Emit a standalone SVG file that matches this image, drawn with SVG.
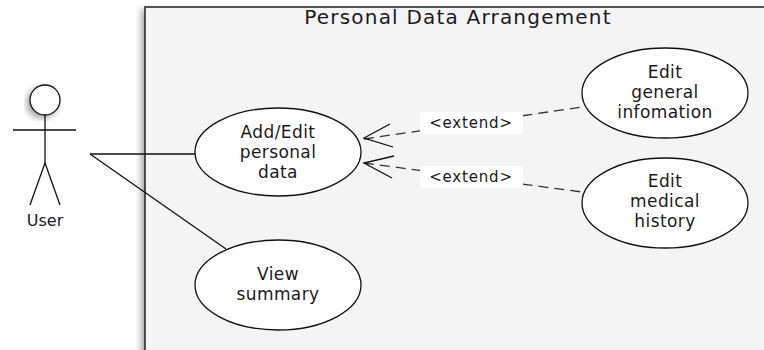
<svg xmlns="http://www.w3.org/2000/svg" width="764" height="350" viewBox="0 0 764 350">
<style>
text{font-family:"DejaVu Sans","Liberation Sans",sans-serif;fill:#1a1a1a;text-anchor:middle}
.uc{fill:#fff;stroke:#111;stroke-width:1.3}
.uct{font-size:17px;letter-spacing:0.4px}
.ln{stroke:#111;stroke-width:1.3;fill:none}
.dash{stroke:#333;stroke-width:1.3;fill:none;stroke-dasharray:10 6}
.lbl{fill:#fff}
.lt{font-size:15px;letter-spacing:0.8px}
</style>
<defs>
<filter id="sh" x="-20%" y="-20%" width="140%" height="140%">
<feDropShadow dx="-3" dy="3" stdDeviation="3" flood-color="#000" flood-opacity="0.35"/>
</filter>
</defs>
<rect width="764" height="350" fill="#fff"/>
<g id="frame">
<rect x="145" y="7" width="640" height="360" fill="#f4f4f4" stroke="#222" stroke-width="1.5" filter="url(#sh)"/>
<text x="458" y="24" style="font-size:20px;letter-spacing:1.2px">Personal Data Arrangement</text>
</g>
<g id="actor-user">
<circle cx="45" cy="100" r="15" fill="#fff" stroke="#111" stroke-width="1.3" filter="url(#sh)"/>
<line class="ln" x1="45" y1="115" x2="45" y2="163"/>
<line class="ln" x1="13" y1="130" x2="76" y2="130"/>
<line class="ln" x1="45" y1="163" x2="30" y2="205"/>
<line class="ln" x1="45" y1="163" x2="60" y2="205"/>
<text x="45" y="226" style="font-size:16px">User</text>
</g>
<g id="connectors">
<line class="ln" x1="90" y1="154" x2="196" y2="154"/>
<line class="ln" x1="90" y1="154" x2="226" y2="249"/>
<line class="dash" x1="364" y1="139" x2="582" y2="107"/>
<polyline class="ln" points="390,124 364,138 393,147"/>
<line class="dash" x1="364" y1="163" x2="582" y2="192"/>
<polyline class="ln" points="394,156 364,163 392,178"/>
<rect class="lbl" x="420" y="112" width="103" height="22"/>
<text class="lt" x="471" y="128">&lt;extend&gt;</text>
<rect class="lbl" x="420" y="166" width="103" height="22"/>
<text class="lt" x="471" y="182">&lt;extend&gt;</text>
</g>
<g id="uc-add-edit">
<ellipse class="uc" cx="278" cy="152" rx="83" ry="44"/>
<text class="uct" x="278" y="138">Add/Edit</text>
<text class="uct" x="278" y="158">personal</text>
<text class="uct" x="278" y="178">data</text>
</g>
<g id="uc-view-summary">
<ellipse class="uc" cx="278" cy="285" rx="83" ry="45"/>
<text class="uct" x="278" y="280">View</text>
<text class="uct" x="278" y="300">summary</text>
</g>
<g id="uc-edit-general">
<ellipse class="uc" cx="665" cy="93" rx="83" ry="45"/>
<text class="uct" x="665" y="78">Edit</text>
<text class="uct" x="665" y="98">general</text>
<text class="uct" x="665" y="118">infomation</text>
</g>
<g id="uc-edit-medical">
<ellipse class="uc" cx="665" cy="203" rx="83" ry="45"/>
<text class="uct" x="665" y="187">Edit</text>
<text class="uct" x="665" y="207">medical</text>
<text class="uct" x="665" y="227">history</text>
</g>
</svg>
